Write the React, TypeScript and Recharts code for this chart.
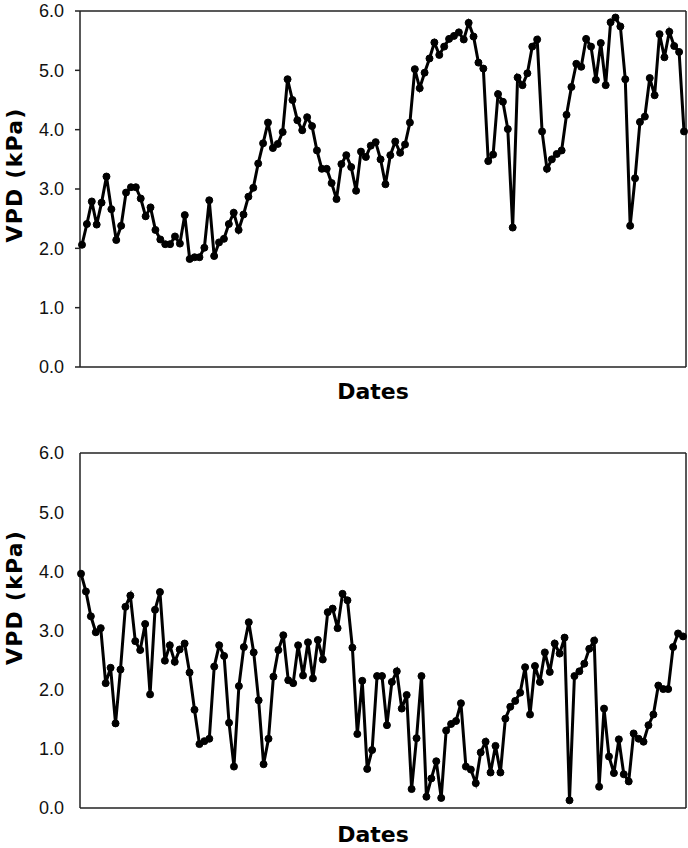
import { LineChart, Line, XAxis, YAxis } from 'recharts'

// VPD readings (kPa), one per day
const topVpd = [
  2.06, 2.41, 2.79, 2.4, 2.77, 3.21, 2.66, 2.14, 2.38, 2.94, 3.03, 3.03, 2.84, 2.54, 2.69, 2.31,
  2.15, 2.07, 2.07, 2.2, 2.08, 2.56, 1.82, 1.85, 1.85, 2.01, 2.81, 1.87, 2.1, 2.16, 2.41, 2.6,
  2.31, 2.57, 2.87, 3.02, 3.43, 3.77, 4.12, 3.69, 3.76, 3.96, 4.85, 4.5, 4.16, 3.99, 4.21, 4.06,
  3.65, 3.34, 3.34, 3.1, 2.83, 3.42, 3.57, 3.37, 2.97, 3.63, 3.54, 3.73, 3.79, 3.5, 3.08,
  3.57, 3.8, 3.61, 3.75, 4.12, 5.02, 4.7, 4.96, 5.2, 5.47, 5.26, 5.4, 5.53, 5.58, 5.64, 5.52,
  5.8, 5.57, 5.13, 5.03, 3.47, 3.58, 4.6, 4.47, 4.01, 2.35, 4.88, 4.75, 4.95, 5.4,
  5.52, 3.97, 3.34, 3.5, 3.59, 3.65, 4.25, 4.72, 5.11, 5.06, 5.53, 5.4, 4.84, 5.46, 4.75, 5.81,
  5.89, 5.74, 4.85, 2.38, 3.18, 4.13, 4.22, 4.87, 4.58, 5.61, 5.22, 5.65, 5.41, 5.31, 3.97,
]

const bottomVpd = [
  3.96, 3.66, 3.24, 2.97, 3.04, 2.11, 2.37, 1.43, 2.34, 3.4, 3.59, 2.82, 2.67, 3.11, 1.92, 3.35,
  3.65, 2.49, 2.75, 2.47, 2.68, 2.78, 2.29, 1.66, 1.08, 1.13, 1.17, 2.39, 2.75, 2.57, 1.44, 0.7,
  2.06, 2.72, 3.14, 2.63, 1.82, 0.74, 1.17, 2.22, 2.67, 2.92, 2.16, 2.11, 2.75, 2.24, 2.8, 2.19,
  2.84, 2.51, 3.31, 3.37, 3.04, 3.62, 3.51, 2.71, 1.25, 2.15, 0.66, 0.98, 2.23, 2.23,
  1.4, 2.13, 2.31, 1.68, 1.91, 0.32, 1.18, 2.23, 0.19, 0.5, 0.79, 0.17, 1.31, 1.42, 1.47, 1.77,
  0.7, 0.65, 0.42, 0.94, 1.12, 0.6, 1.05, 0.6, 1.51, 1.71, 1.81, 1.95, 2.38, 1.58,
  2.4, 2.13, 2.63, 2.3, 2.78, 2.61, 2.88, 0.13, 2.23, 2.31, 2.44, 2.69, 2.83, 0.36, 1.68, 0.87,
  0.59, 1.16, 0.57, 0.45, 1.26, 1.17, 1.12, 1.4, 1.58, 2.07, 2.01, 2.01, 2.72, 2.95, 2.9,
]

const yTicks = [0, 1, 2, 3, 4, 5, 6]

const axisColor = '#222'
const titleFont = '"DejaVu Sans", Verdana, sans-serif'
const tickFont = '"Liberation Sans", Arial, sans-serif'

function YTitle({ viewBox, shift }: any) {
  const { x, y, height } = viewBox
  const cx = x + 22
  const cy = y + height / 2 + shift
  return (
    <text
      x={cx}
      y={cy}
      transform={`rotate(-90, ${cx}, ${cy})`}
      textAnchor="middle"
      fontFamily={titleFont}
      fontWeight="bold"
      fontSize={22}
      letterSpacing={1.2}
      fill="#000"
    >
      VPD (kPa)
    </text>
  )
}

function XTitle({ viewBox, drop }: any) {
  const { x, y, width } = viewBox
  return (
    <text
      x={x + width / 2 - 10}
      y={y + drop}
      textAnchor="middle"
      fontFamily={titleFont}
      fontWeight="bold"
      fontSize={22}
      fill="#000"
    >
      Dates
    </text>
  )
}

interface PanelProps {
  values: number[]
  height: number
  margin: { top: number; right: number; bottom: number; left: number }
  pad: { left: number; right: number }
  ticks: boolean
  titleShift: number
  titleDrop: number
}

function Panel({ values, height, margin, pad, ticks, titleShift, titleDrop }: PanelProps) {
  const data = values.map((v, i) => ({ day: i + 1, vpd: v }))
  const frame = { stroke: axisColor, strokeWidth: 1.5 }
  return (
    <LineChart width={688} height={height} data={data} margin={margin}>
      <XAxis
        dataKey="day"
        height={1}
        tick={false}
        tickLine={false}
        padding={pad}
        axisLine={frame}
        label={<XTitle drop={titleDrop} />}
      />
      <XAxis
        xAxisId="top"
        orientation="top"
        dataKey="day"
        height={1}
        tick={false}
        tickLine={false}
        axisLine={frame}
      />
      <YAxis
        width={80}
        domain={[0, 6]}
        ticks={yTicks}
        interval={0}
        tickSize={5}
        tickMargin={11}
        tickLine={ticks ? frame : false}
        axisLine={frame}
        tickFormatter={(v: number) => v.toFixed(1)}
        tick={{ fontFamily: tickFont, fontSize: 18, fill: '#111' }}
        label={<YTitle shift={titleShift} />}
      />
      <YAxis
        yAxisId="right"
        orientation="right"
        width={1}
        domain={[0, 6]}
        tick={false}
        tickLine={false}
        axisLine={frame}
      />
      <Line
        type="linear"
        dataKey="vpd"
        stroke="#000"
        strokeWidth={3}
        dot={{ r: 3.5, fill: '#000', stroke: '#000', strokeWidth: 1 }}
        isAnimationActive={false}
      />
    </LineChart>
  )
}

export default function App() {
  return (
    <div style={{ position: 'absolute', left: 0, top: 0, width: 688, height: 848, background: '#fff' }}>
      <Panel
        values={topVpd}
        height={420}
        margin={{ top: 10, right: 1, bottom: 52, left: 0 }}
        pad={{ left: 2, right: 2 }}
        ticks={true}
        titleShift={-14}
        titleDrop={32}
      />
      <Panel
        values={bottomVpd}
        height={428}
        margin={{ top: 32, right: 1, bottom: 39, left: 0 }}
        pad={{ left: 1, right: 3 }}
        ticks={false}
        titleShift={-33}
        titleDrop={34}
      />
    </div>
  )
}
